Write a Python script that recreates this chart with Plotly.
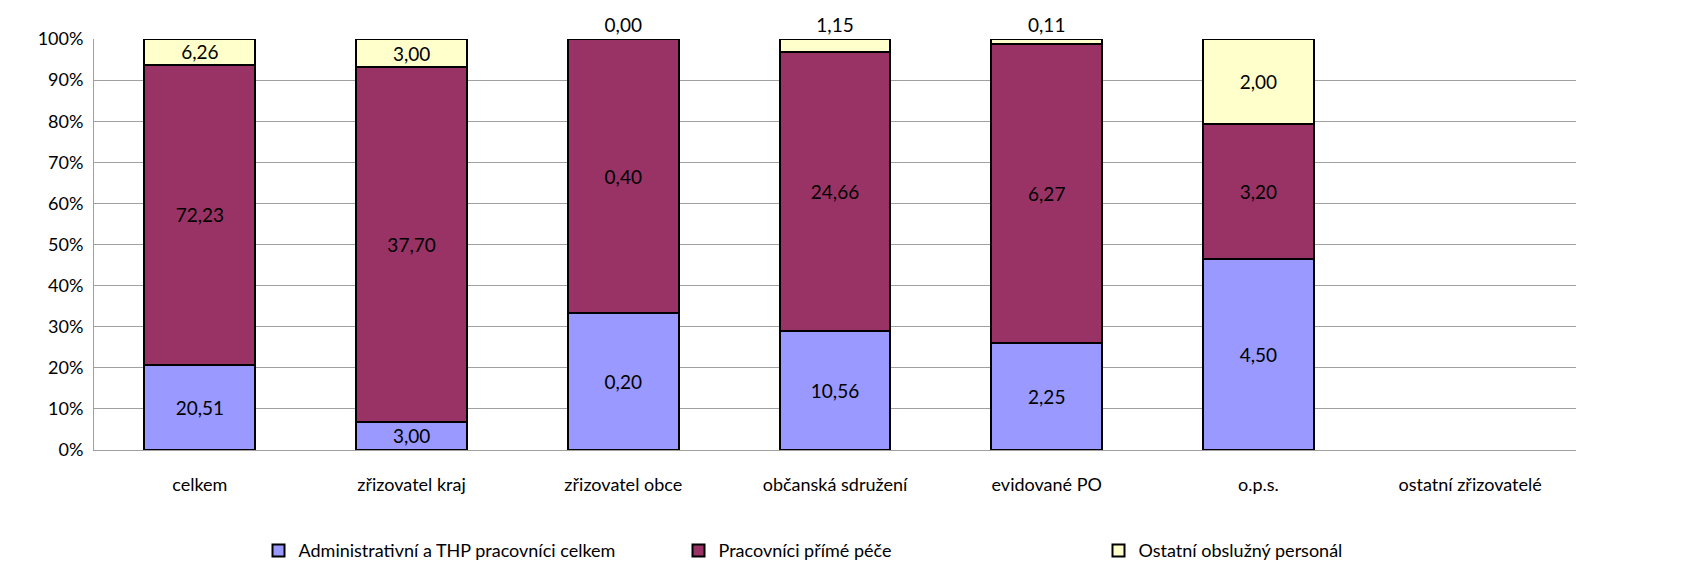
import plotly.graph_objects as go

categories = ["celkem", "zřizovatel kraj", "zřizovatel obce", "občanská sdružení",
              "evidované PO", "o.p.s.", "ostatní zřizovatelé"]
admin = [20.51, 3.00, 0.20, 10.56, 2.25, 4.50, None]
care = [72.23, 37.70, 0.40, 24.66, 6.27, 3.20, None]
other = [6.26, 3.00, 0.00, 1.15, 0.11, 2.00, None]
series_names = ["Administrativní a THP pracovníci celkem", "Pracovníci přímé péče",
                "Ostatní obslužný personál"]
y_ticks = [0, 10, 20, 30, 40, 50, 60, 70, 80, 90, 100]
y_tick_labels = [f"{v}%" for v in y_ticks]

colors = ["#9999FF", "#993366", "#FFFFCC"]
FONT = "Lato, Noto Sans, sans-serif"
FS = 18


def fmt(v):
    return "" if v is None else f"{v:.2f}".replace(".", ",")


fig = go.Figure()
for name, vals, col in zip(series_names, [admin, care, other], colors):
    if vals is other:
        tot = [None if a is None else a + b + c for a, b, c in zip(admin, care, other)]
        pos = ["outside" if (t and v / t * 100 < 5) else "inside"
               for v, t in zip(vals, tot)]
    else:
        pos = "inside"
    fig.add_trace(go.Bar(
        x=categories, y=vals, name=name,
        marker=dict(color=col, line=dict(color="black", width=2)),
        text=[fmt(v) for v in vals], textposition=pos,
        insidetextanchor="middle", constraintext="none",
        textfont=dict(family=FONT, size=19, color="black"),
        outsidetextfont=dict(family=FONT, size=19, color="black"),
        cliponaxis=False,
    ))

fig.update_layout(
    barmode="stack", barnorm="percent", bargap=0.476,
    width=1695, height=576,
    margin=dict(l=86, r=127, t=31, b=134),
    paper_bgcolor="white", plot_bgcolor="white",
    font=dict(family=FONT, size=FS, color="black"),
    showlegend=True,
    legend=dict(orientation="h", x=0.111, xanchor="left", y=-0.2, yanchor="top",
                font=dict(family=FONT, size=FS), traceorder="normal",
                itemsizing="constant", itemwidth=30,
                entrywidth=375, entrywidthmode="pixels", tracegroupgap=0),
    xaxis=dict(showgrid=False, showline=True, linecolor="#A0A0A0", linewidth=1,
               ticks="", tickfont=dict(size=FS), ticklabelstandoff=18),
    yaxis=dict(range=[0, 100], tickvals=y_ticks, ticktext=y_tick_labels,
               showgrid=True, gridcolor="#A0A0A0", gridwidth=1,
               showline=True, linecolor="#A0A0A0", linewidth=1,
               ticks="", tickfont=dict(size=FS), zeroline=False,
               ticklabelstandoff=6),
    uniformtext=dict(mode=False),
)

fig.write_html("out.html")
